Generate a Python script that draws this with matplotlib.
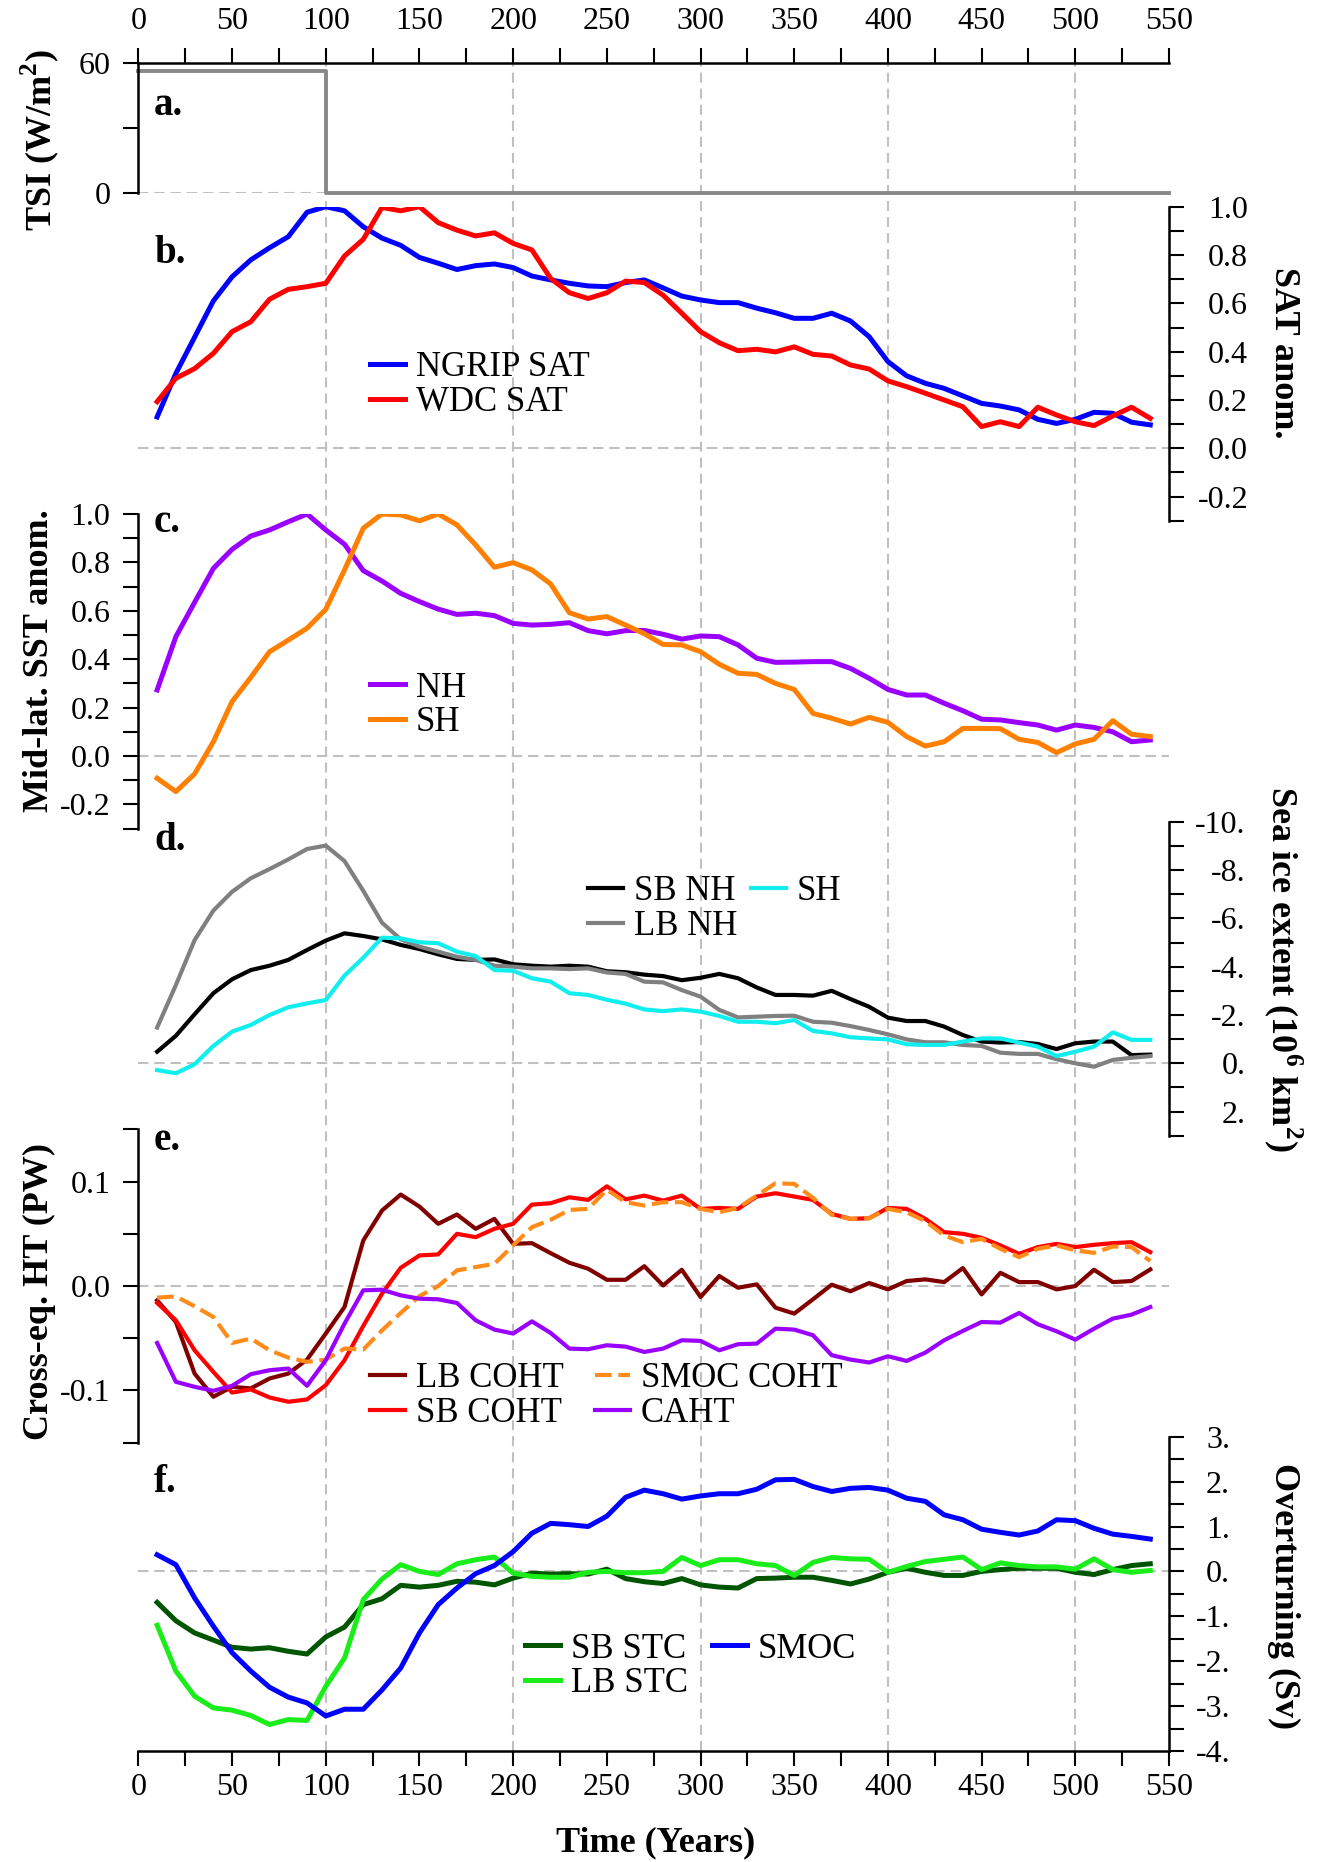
import numpy as np
import matplotlib
matplotlib.use("Agg")
import matplotlib.pyplot as plt
from matplotlib.ticker import MultipleLocator, FuncFormatter

plt.rcParams['font.family'] = ['Liberation Serif', 'DejaVu Serif']
plt.rcParams['mathtext.fontset'] = 'custom'
plt.rcParams['mathtext.rm'] = 'Liberation Serif'
plt.rcParams['mathtext.bf'] = 'Liberation Serif:bold'
plt.rcParams['axes.unicode_minus'] = False

# model years (10-yr means)
years = np.arange(10, 550, 10)

# a. TSI forcing
tsi_years = [0, 100, 100, 550]
tsi = [56, 56, 0, 0]

# b. SAT anomaly
ngrip_sat = [0.13, 0.31, 0.46, 0.61, 0.71, 0.78, 0.83, 0.876, 0.977, 1.0,
             0.983, 0.917, 0.87, 0.84, 0.79, 0.766, 0.74, 0.756, 0.763, 0.748,
             0.713, 0.697, 0.683, 0.672, 0.669, 0.686, 0.697, 0.664, 0.63, 0.614,
             0.603, 0.603, 0.58, 0.561, 0.538, 0.538, 0.559, 0.527, 0.462, 0.359,
             0.30, 0.269, 0.248, 0.217, 0.186, 0.175, 0.159, 0.12, 0.103, 0.12,
             0.149, 0.145, 0.108, 0.097]
wdc_sat = [0.193, 0.29, 0.33, 0.393, 0.483, 0.524, 0.617, 0.658, 0.669, 0.683,
           0.796, 0.865, 0.997, 0.983, 1.0, 0.934, 0.903, 0.879, 0.892, 0.848,
           0.821, 0.703, 0.644, 0.62, 0.644, 0.692, 0.686, 0.634, 0.559, 0.483,
           0.437, 0.404, 0.41, 0.399, 0.42, 0.389, 0.382, 0.345, 0.328, 0.279,
           0.255, 0.228, 0.2, 0.172, 0.09, 0.11, 0.09, 0.17, 0.138, 0.11,
           0.094, 0.134, 0.17, 0.124]

# c. mid-latitude SST anomaly
sst_nh = [0.273, 0.493, 0.635, 0.775, 0.854, 0.909, 0.934, 0.968, 1.0, 0.934,
          0.875, 0.766, 0.723, 0.672, 0.638, 0.607, 0.585, 0.59, 0.58, 0.548,
          0.541, 0.544, 0.551, 0.518, 0.505, 0.518, 0.519, 0.503, 0.483, 0.496,
          0.493, 0.459, 0.404, 0.387, 0.388, 0.39, 0.39, 0.362, 0.321, 0.275,
          0.252, 0.252, 0.218, 0.187, 0.152, 0.149, 0.138, 0.128, 0.107, 0.128,
          0.118, 0.1, 0.059, 0.066]
sst_sh = [-0.092, -0.147, -0.074, 0.059, 0.225, 0.325, 0.431, 0.479, 0.528, 0.606,
          0.769, 0.941, 1.0, 0.996, 0.972, 1.0, 0.955, 0.872, 0.78, 0.799,
          0.769, 0.711, 0.592, 0.566, 0.576, 0.541, 0.505, 0.461, 0.459, 0.431,
          0.379, 0.342, 0.337, 0.3, 0.275, 0.176, 0.156, 0.132, 0.16, 0.139,
          0.08, 0.041, 0.059, 0.114, 0.114, 0.113, 0.069, 0.056, 0.014, 0.05,
          0.069, 0.146, 0.09, 0.08]

# d. sea ice extent anomaly (10^6 km2)
ice_sb_nh = [-0.48, -1.14, -2.03, -2.9, -3.48, -3.86, -4.04, -4.28, -4.69, -5.08,
             -5.38, -5.27, -5.13, -4.9, -4.73, -4.51, -4.32, -4.28, -4.3, -4.1,
             -4.04, -4.0, -4.04, -4.0, -3.81, -3.77, -3.67, -3.61, -3.44, -3.54,
             -3.7, -3.52, -3.14, -2.83, -2.83, -2.8, -3.0, -2.66, -2.34, -1.89,
             -1.75, -1.75, -1.52, -1.17, -0.9, -0.86, -0.88, -0.8, -0.59, -0.83,
             -0.9, -0.9, -0.34, -0.36]
ice_lb_nh = [-1.48, -3.24, -5.1, -6.32, -7.1, -7.66, -8.04, -8.44, -8.87, -9.01,
             -8.37, -7.14, -5.82, -5.13, -4.83, -4.62, -4.41, -4.28, -4.04, -4.0,
             -3.93, -3.93, -3.9, -3.93, -3.76, -3.7, -3.38, -3.35, -3.03, -2.76,
             -2.21, -1.9, -1.93, -1.96, -1.97, -1.72, -1.68, -1.54, -1.38, -1.2,
             -0.99, -0.87, -0.87, -0.76, -0.72, -0.44, -0.39, -0.39, -0.17, 0.0,
             0.14, -0.14, -0.23, -0.3]
ice_sh = [0.28, 0.41, 0.04, -0.72, -1.31, -1.59, -2.0, -2.32, -2.48, -2.62,
          -3.63, -4.37, -5.2, -5.17, -5.01, -4.97, -4.62, -4.44, -3.86, -3.83,
          -3.52, -3.38, -2.9, -2.83, -2.63, -2.47, -2.23, -2.16, -2.23, -2.14,
          -1.96, -1.72, -1.72, -1.66, -1.79, -1.34, -1.24, -1.08, -1.03, -0.99,
          -0.79, -0.76, -0.76, -0.9, -1.03, -1.03, -0.86, -0.69, -0.3, -0.48,
          -0.69, -1.28, -0.97, -0.97]

# e. cross-equatorial heat transport (PW)
lb_coht = [-0.0137, -0.0344, -0.0838, -0.106, -0.0965, -0.098, -0.0885, -0.0838, -0.0704, -0.0455,
           -0.02, 0.0436, 0.0723, 0.0876, 0.0761, 0.0596, 0.0685, 0.0548, 0.0643, 0.0404,
           0.0411, 0.0315, 0.0223, 0.0166, 0.006, 0.006, 0.019, 0.0006, 0.0156, -0.0105,
           0.0096, -0.0016, 0.0016, -0.0207, -0.0264, -0.0127, 0.0013, -0.005, 0.0029, -0.0032,
           0.0048, 0.0064, 0.0038, 0.0172, -0.008, 0.0127, 0.0038, 0.0038, -0.0032, 0.0,
           0.0156, 0.0038, 0.0048, 0.0159]
sb_coht = [-0.0162, -0.0328, -0.0615, -0.0822, -0.102, -0.099, -0.1067, -0.1108, -0.1086, -0.0949,
           -0.071, -0.0382, -0.0073, 0.0175, 0.0293, 0.0303, 0.05, 0.0468, 0.0548, 0.0596,
           0.078, 0.0793, 0.085, 0.0825, 0.0955, 0.083, 0.0866, 0.0818, 0.0866, 0.0739,
           0.0748, 0.0739, 0.0857, 0.0889, 0.0857, 0.0825, 0.0691, 0.0643, 0.065, 0.0748,
           0.0739, 0.0643, 0.0516, 0.05, 0.0462, 0.0389, 0.0309, 0.0373, 0.0404, 0.0373,
           0.0395, 0.0411, 0.042, 0.0325]
smoc_coht = [-0.0111, -0.0099, -0.0194, -0.0296, -0.0545, -0.0503, -0.0615, -0.0685, -0.0726, -0.0704,
             -0.0599, -0.0608, -0.0424, -0.0258, -0.0096, 0.0, 0.015, 0.0182, 0.0213, 0.0389,
             0.0564, 0.0634, 0.0729, 0.0739, 0.0922, 0.0803, 0.0771, 0.0803, 0.0803, 0.0739,
             0.0707, 0.0748, 0.0866, 0.0984, 0.0978, 0.0844, 0.0682, 0.0643, 0.065, 0.0739,
             0.0707, 0.0621, 0.0484, 0.042, 0.0452, 0.0357, 0.0277, 0.0357, 0.0389, 0.0341,
             0.0318, 0.0379, 0.0373, 0.0239]
caht = [-0.0545, -0.0917, -0.0965, -0.1003, -0.0955, -0.0844, -0.0806, -0.079, -0.0955, -0.071,
        -0.036, -0.0041, -0.0035, -0.0089, -0.0121, -0.0127, -0.0162, -0.0328, -0.0417, -0.0455,
        -0.0338, -0.0449, -0.0599, -0.0605, -0.0567, -0.058, -0.0631, -0.0599, -0.0519, -0.0525,
        -0.0615, -0.0557, -0.0551, -0.0408, -0.0417, -0.0471, -0.0662, -0.0704, -0.0732, -0.0672,
        -0.0717, -0.0637, -0.0519, -0.043, -0.0344, -0.035, -0.0258, -0.0366, -0.0433, -0.0513,
        -0.0408, -0.0312, -0.0274, -0.0201]

# f. overturning (Sv)
sb_stc = [-0.69, -1.1, -1.37, -1.53, -1.69, -1.73, -1.7, -1.78, -1.84, -1.46,
          -1.24, -0.74, -0.61, -0.31, -0.35, -0.31, -0.22, -0.24, -0.3, -0.15,
          -0.04, -0.06, -0.05, -0.06, 0.05, -0.16, -0.23, -0.27, -0.16, -0.3,
          -0.35, -0.37, -0.16, -0.15, -0.13, -0.13, -0.2, -0.28, -0.17, -0.02,
          0.07, -0.02, -0.09, -0.09, 0.0, 0.04, 0.07, 0.07, 0.07, -0.02,
          -0.07, 0.04, 0.13, 0.17]
lb_stc = [-1.2, -2.22, -2.78, -3.04, -3.09, -3.21, -3.41, -3.3, -3.32, -2.56,
          -1.93, -0.63, -0.17, 0.15, 0.0, -0.07, 0.17, 0.26, 0.32, -0.04,
          -0.11, -0.13, -0.13, -0.02, 0.0, -0.03, -0.03, 0.0, 0.31, 0.13,
          0.26, 0.26, 0.17, 0.13, -0.09, 0.2, 0.31, 0.28, 0.27, -0.02,
          0.11, 0.22, 0.27, 0.32, 0.04, 0.19, 0.13, 0.1, 0.1, 0.05,
          0.28, 0.04, -0.02, 0.02]
smoc = [0.37, 0.15, -0.59, -1.22, -1.81, -2.22, -2.58, -2.8, -2.93, -3.22,
        -3.07, -3.07, -2.64, -2.15, -1.37, -0.74, -0.37, -0.05, 0.13, 0.44,
        0.85, 1.07, 1.04, 1.0, 1.23, 1.65, 1.81, 1.73, 1.61, 1.68,
        1.73, 1.73, 1.83, 2.04, 2.05, 1.89, 1.78, 1.85, 1.87, 1.81,
        1.63, 1.56, 1.26, 1.15, 0.94, 0.87, 0.81, 0.9, 1.15, 1.13,
        0.96, 0.83, 0.78, 0.72]

W_PX, H_PX = 1321, 1862
X0, X1 = 138.4, 1169.0
GRID = '#c0c0c0'
LW = 3.6      # thick lines (b, c, f)
LW_THIN = 3.0 # d, e
TICK_FS = 23
LAB_FS = 26
LEG_FS = 25

fig = plt.figure(figsize=(W_PX / 100, H_PX / 100), dpi=100)


def panel(top, bot):
    return fig.add_axes([X0 / W_PX, 1 - bot / H_PX, (X1 - X0) / W_PX, (bot - top) / H_PX])


def fmt1(v, pos):
    if abs(v) < 1e-9:
        return '0.0'
    return '%.1f' % v


def fmt_int_dot(v, pos):
    return '%d.' % int(round(v))


def style(ax, side, ylim, major, minor, fmt, pad):
    ax.set_xlim(0, 550)
    ax.set_ylim(*ylim)
    ax.patch.set_visible(False)
    for s in ['top', 'bottom', 'left', 'right']:
        ax.spines[s].set_visible(s == side)
        ax.spines[s].set_linewidth(1.8)
    ax.xaxis.set_visible(False)
    if side == 'right':
        ax.yaxis.tick_right()
    ax.yaxis.set_major_locator(MultipleLocator(major))
    ax.yaxis.set_minor_locator(MultipleLocator(minor))
    ax.yaxis.set_major_formatter(FuncFormatter(fmt))
    ax.tick_params(axis='y', which='both', direction='out', length=11, width=1.5,
                   labelsize=TICK_FS, pad=pad)
    if side == 'right':
        for t in ax.yaxis.get_major_ticks():
            t.label2.set_horizontalalignment('right')
    ax.axhline(0, color=GRID, lw=1.5, dashes=(5, 2.8), zorder=0)


def legend(ax, x_px, y_px, ncol=1, colsp=0.5):
    ax.legend(loc='center left', bbox_to_anchor=(x_px / W_PX, 1 - y_px / H_PX),
              bbox_transform=fig.transFigure, frameon=False, fontsize=LEG_FS,
              ncol=ncol, handlelength=1.0, handletextpad=0.32, labelspacing=0.05,
              columnspacing=colsp, borderpad=0, borderaxespad=0)


# vertical dashed guides through all panels
bg = panel(62.7, 1751)
bg.set_xlim(0, 550)
bg.axis('off')
for xv in [100, 200, 300, 400, 500]:
    bg.axvline(xv, color=GRID, lw=1.5, dashes=(4.8, 2.9))

# a. TSI
ax_a = panel(62.7, 193.3)
style(ax_a, 'left', (0, 60), 60, 30, lambda v, p: '%d' % v, 9)
ax_a.spines['top'].set_visible(True)
ax_a.xaxis.set_visible(True)
ax_a.xaxis.tick_top()
ax_a.xaxis.set_major_locator(MultipleLocator(50))
ax_a.xaxis.set_minor_locator(MultipleLocator(25))
ax_a.tick_params(axis='x', which='both', direction='out', length=11, width=1.5,
                 labelsize=TICK_FS, pad=8)
ax_a.plot(tsi_years, tsi, color='#888888', lw=2.8, clip_on=False)

# b. SAT
ax_b = panel(206.7, 520.8)
style(ax_b, 'right', (-0.3, 1.0), 0.2, 0.1, fmt1, 46)
ax_b.plot(years, ngrip_sat, color='#0000ff', lw=LW, label='NGRIP SAT')
ax_b.plot(years, wdc_sat, color='#ff0000', lw=LW, label='WDC SAT')
legend(ax_b, 370, 385)

# c. SST
ax_c = panel(514, 828.6)
style(ax_c, 'left', (-0.3, 1.0), 0.2, 0.1, fmt1, 9)
ax_c.plot(years, sst_nh, color='#9a00ff', lw=LW, label='NH')
ax_c.plot(years, sst_sh, color='#ff7f00', lw=LW, label='SH')
legend(ax_c, 370, 705.5)

# d. sea ice
ax_d = panel(821.7, 1135.8)
style(ax_d, 'right', (3, -10), 2, 1, fmt_int_dot, 44)
ax_d.plot(years, ice_sb_nh, color='black', lw=LW_THIN, label='SB NH')
ax_d.plot(years, ice_lb_nh, color='#808080', lw=LW_THIN, label='LB NH')
ax_d.plot(years, ice_sh, color='#11eeee', lw=LW_THIN, label='SH')
legend(ax_d, 588, 909, ncol=2, colsp=0.4)

# e. cross-equatorial heat transport
ax_e = panel(1129.4, 1442.7)
style(ax_e, 'left', (-0.15, 0.15), 0.1, 0.05, fmt1, 9)
ax_e.plot(years, lb_coht, color='#800000', lw=LW_THIN, label='LB COHT')
ax_e.plot(years, sb_coht, color='#ff0000', lw=LW_THIN, label='SB COHT')
ax_e.plot(years, smoc_coht, color='#ff8c1a', lw=LW_THIN, dashes=(4, 1.6), label='SMOC COHT')
ax_e.plot(years, caht, color='#9a00ff', lw=LW_THIN, label='CAHT')
legend(ax_e, 370, 1396, ncol=2, colsp=0.9)

# f. overturning
ax_f = panel(1436.7, 1751)
style(ax_f, 'right', (-4, 3), 1, 0.5, fmt_int_dot, 33)
ax_f.spines['bottom'].set_visible(True)
ax_f.xaxis.set_visible(True)
ax_f.xaxis.set_major_locator(MultipleLocator(50))
ax_f.xaxis.set_minor_locator(MultipleLocator(25))
ax_f.tick_params(axis='x', which='both', direction='out', length=11, width=1.5,
                 labelsize=TICK_FS, pad=5)
ax_f.plot(years, sb_stc, color='#005500', lw=LW, label='SB STC')
ax_f.plot(years, lb_stc, color='#1aee1a', lw=LW, label='LB STC')
ax_f.plot(years, smoc, color='#0000ff', lw=LW, label='SMOC')
legend(ax_f, 525, 1666.5, ncol=2, colsp=0.7)

# axis titles
bold = dict(fontsize=LAB_FS, fontweight='bold', ha='center', va='center')
fig.text(0.0297, 1 - 140 / H_PX, r'TSI (W/m$^{\mathbf{2}}$)', rotation=90, **bold)
fig.text(0.0297, 1 - 661 / H_PX, 'Mid-lat. SST anom.', rotation=90, **bold)
fig.text(0.0297, 1 - 1292 / H_PX, 'Cross-eq. HT (PW)', rotation=90, **bold)
fig.text(0.9715, 1 - 353 / H_PX, 'SAT anom.', rotation=270, **bold)
fig.text(0.9715, 1 - 969 / H_PX, r'Sea ice extent (10$^{\mathbf{6}}$ km$^{\mathbf{2}}$)',
         rotation=270, **bold)
fig.text(0.9715, 1 - 1596 / H_PX, 'Overturning (Sv)', rotation=270, **bold)
fig.text(0.496, 1 - 1843 / H_PX, 'Time (Years)', **bold)

# panel letters
for letter, base in zip(['a.', 'b.', 'c.', 'd.', 'e.', 'f.'],
                        [115, 263, 531.7, 850, 1150, 1491.7]):
    fig.text(0.1166, 1 - base / H_PX, letter, fontsize=28, fontweight='bold',
             ha='left', va='baseline')

fig.savefig('out.png', dpi=100)
